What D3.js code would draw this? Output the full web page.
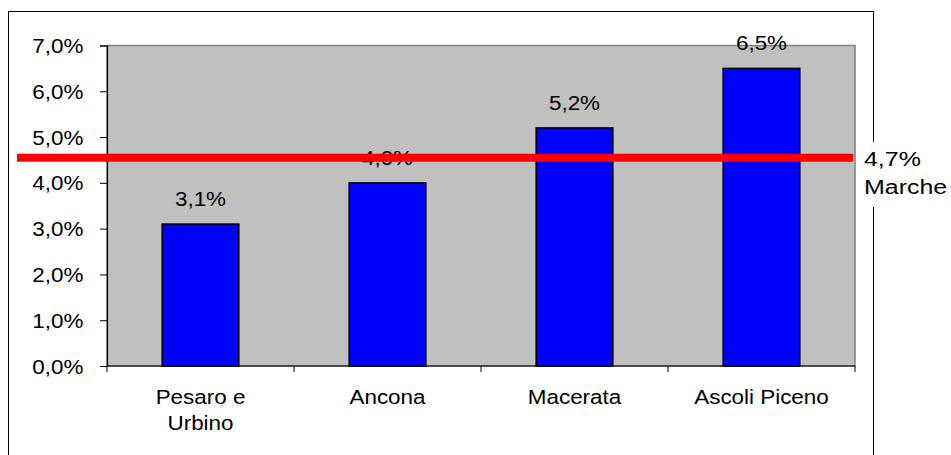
<!DOCTYPE html>
<html>
<head>
<meta charset="utf-8">
<script src="https://cdn.jsdelivr.net/npm/d3@7"></script>
<style>
  body { margin: 0; background: #fff; }
  text { font-family: "Liberation Sans", Arial, sans-serif; fill: #000; }
</style>
</head>
<body>
<div id="chart"></div>
<script>
const provinces = ["Pesaro e|Urbino", "Ancona", "Macerata", "Ascoli Piceno"];
const values = [3.1, 4.0, 5.2, 6.5];
const yTicks = [0, 1, 2, 3, 4, 5, 6, 7];
const marcheLevel = 4.55;          // where the red line sits in the picture
const marcheLabel = ["4,7%", "Marche"];

const W = 951, H = 455;
const margin = { top: 45.5, right: 96, bottom: 89, left: 107 };
const plotW = W - margin.left - margin.right;
const plotH = H - margin.top - margin.bottom;
const fs = "19.5px";
const sx = 1.15;      // text in the picture is drawn a little wide
const fmt = d => d.toFixed(1).replace(".", ",") + "%";

const svg = d3.select("#chart").append("svg")
  .attr("width", W)
  .attr("height", H);

// outer chart border
svg.append("rect")
  .attr("x", 8.5).attr("y", 11.5)
  .attr("width", 865).attr("height", 460)
  .attr("fill", "none").attr("stroke", "#000").attr("stroke-width", 1);

const g = svg.append("g")
  .attr("transform", `translate(${margin.left},${margin.top})`);

const x = d3.scaleBand().domain(provinces).range([0, plotW]).paddingInner(0.59).paddingOuter(0.295);
const xEdge = d3.scaleBand().domain(provinces).range([0, plotW]);
const y = d3.scaleLinear().domain([0, 7]).range([plotH, 0]);

// plot background
g.append("rect")
  .attr("width", plotW).attr("height", plotH)
  .attr("fill", "#c0c0c0").attr("stroke", "#808080").attr("stroke-width", 1.5);

// bars
g.selectAll(".bar")
  .data(values)
  .enter().append("rect")
  .attr("class", "bar")
  .attr("x", (d, i) => x(provinces[i]))
  .attr("y", d => y(d))
  .attr("width", x.bandwidth())
  .attr("height", d => plotH - y(d))
  .attr("fill", "#0000ff")
  .attr("stroke", "#000")
  .attr("stroke-width", 1.5);

// value labels
g.selectAll(".val")
  .data(values)
  .enter().append("text")
  .attr("transform", (d, i) => `translate(${x(provinces[i]) + x.bandwidth() / 2},${y(d) - 18}) scale(${sx},1)`)
  .attr("text-anchor", "middle")
  .style("font-size", fs)
  .text(fmt);

// y axis
const yAxis = g.append("g")
  .call(d3.axisLeft(y).tickValues(yTicks).tickSize(7).tickPadding(13.5).tickFormat(fmt));
yAxis.select(".domain").attr("stroke", "#000").attr("stroke-width", 1.2);
yAxis.selectAll(".tick line").attr("stroke", "#000");
yAxis.selectAll("text")
  .style("font-size", fs).attr("fill", "#000").attr("dy", "0.36em")
  .attr("transform", `scale(${sx},1)`);

// x axis
const xAxis = g.append("g").attr("transform", `translate(0,${plotH})`);
xAxis.append("line")
  .attr("x1", 0).attr("x2", plotW)
  .attr("stroke", "#000").attr("stroke-width", 1.2);
xAxis.selectAll(".xt")
  .data(provinces.concat(["end"]))
  .enter().append("line")
  .attr("x1", (d, i) => i < provinces.length ? xEdge(d) : plotW)
  .attr("x2", (d, i) => i < provinces.length ? xEdge(d) : plotW)
  .attr("y1", 0).attr("y2", 6)
  .attr("stroke", "#000");
xAxis.selectAll(".xl")
  .data(provinces)
  .enter().append("text")
  .attr("transform", d => `translate(${x(d) + x.bandwidth() / 2},38) scale(${sx},1)`)
  .attr("text-anchor", "middle")
  .style("font-size", fs)
  .each(function(d) {
    d.split("|").forEach((line, k) => {
      d3.select(this).append("tspan")
        .attr("x", 0)
        .attr("dy", k === 0 ? 0 : 26)
        .text(line);
    });
  });

// Marche reference line
g.append("line")
  .attr("x1", 17 - margin.left).attr("x2", plotW - 2)
  .attr("y1", y(marcheLevel)).attr("y2", y(marcheLevel))
  .attr("stroke", "#ff0000").attr("stroke-width", 8);

// label box for the reference line
svg.append("rect")
  .attr("x", 862).attr("y", 142)
  .attr("width", 89).attr("height", 65)
  .attr("fill", "#fff");
svg.selectAll(".ml")
  .data(marcheLabel)
  .enter().append("text")
  .attr("transform", (d, i) => `translate(864,${166 + i * 28}) scale(1.28,1)`)
  .style("font-size", fs)
  .text(d => d);
</script>
</body>
</html>
